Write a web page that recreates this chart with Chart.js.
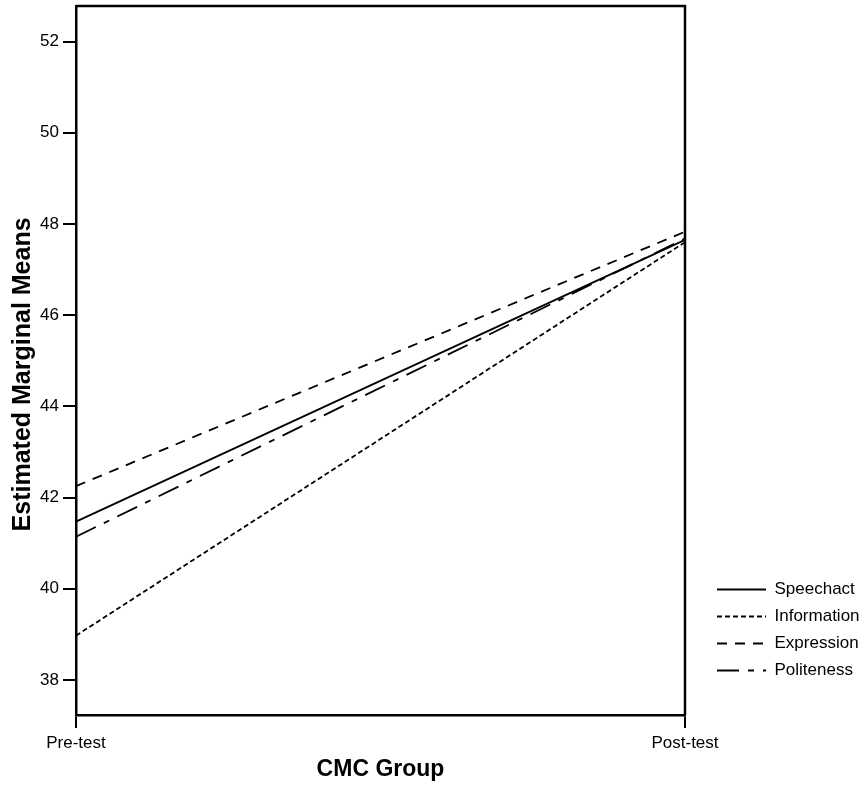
<!DOCTYPE html>
<html>
<head>
<meta charset="utf-8">
<script src="https://cdn.jsdelivr.net/npm/chart.js@4.4.1/dist/chart.umd.min.js"></script>
<style>
  html, body { margin: 0; padding: 0; background: #fff; }
  #wrap { width: 864px; height: 786px; position: relative; }
</style>
</head>
<body>
<div id="wrap"><canvas id="c" width="864" height="786"></canvas></div>
<script>
const categories = ['Pre-test', 'Post-test'];
const speechact   = [41.47, 47.65];
const information = [38.97, 47.60];
const expression  = [42.25, 47.83];
const politeness  = [41.14, 47.68];
const yTickValues = [38, 40, 42, 44, 46, 48, 50, 52];
const yMin = 37.23, yMax = 52.78;

const FONT = "'Liberation Sans', Arial, Helvetica, sans-serif";
Chart.defaults.color = '#000';
Chart.defaults.font.family = FONT;

const frame = {
  id: 'frame',
  afterDraw(chart) {
    const a = chart.chartArea, ctx = chart.ctx;
    ctx.save();
    ctx.strokeStyle = '#000';
    ctx.lineWidth = 2.5;
    ctx.beginPath();
    ctx.moveTo(a.left, a.top); ctx.lineTo(a.right, a.top); ctx.lineTo(a.right, a.bottom);
    ctx.stroke();
    ctx.restore();
  }
};

const placeLegend = {
  id: 'placeLegend',
  afterLayout(chart) {
    const lg = chart.legend;
    lg.left = 707; lg.top = 571; lg.right = 864; lg.bottom = 786;
    lg.width = lg.right - lg.left; lg.height = lg.bottom - lg.top;
  }
};

function ds(label, data, dash) {
  return {
    label, data,
    borderColor: '#000', backgroundColor: '#000',
    borderWidth: 1.8, borderDash: dash,
    pointRadius: 0, pointHoverRadius: 0, tension: 0, fill: false
  };
}

new Chart(document.getElementById('c'), {
  type: 'line',
  data: {
    labels: categories,
    datasets: [
      ds('Speechact', speechact, []),
      ds('Information', information, [5, 3]),
      ds('Expression', expression, [10, 8]),
      ds('Politeness', politeness, [22, 9, 6, 9])
    ]
  },
  options: {
    responsive: false,
    animation: false,
    events: [],
    layout: { padding: { top: 6, right: 179, left: 0, bottom: 0 } },
    plugins: {
      tooltip: { enabled: false },
      legend: {
        position: 'chartArea',
        align: 'start',
        labels: {
          usePointStyle: true,
          pointStyle: 'line',
          pointStyleWidth: 49,
          padding: 10,
          color: '#000',
          font: { size: 17, family: FONT },
          generateLabels(chart) {
            const items = Chart.defaults.plugins.legend.labels.generateLabels(chart);
            items.forEach(it => {
              const d = chart.data.datasets[it.datasetIndex];
              it.lineDash = d.borderDash;
              it.lineWidth = d.borderWidth;
              it.strokeStyle = d.borderColor;
              it.fillStyle = d.borderColor;
              it.pointStyle = 'line';
            });
            return items;
          }
        }
      }
    },
    scales: {
      x: {
        type: 'category',
        offset: false,
        afterFit(s) { s.height = 71; s.paddingLeft = 0; s.paddingRight = 0; },
        grid: { drawOnChartArea: false, drawTicks: true, tickLength: 13, color: '#000', lineWidth: 2 },
        border: { display: true, color: '#000', width: 2.5 },
        ticks: { padding: 5, maxRotation: 0, autoSkip: false, font: { size: 17, family: FONT }, color: '#000' },
        title: { display: true, text: 'CMC Group', font: { size: 23, weight: 'bold', family: FONT }, color: '#000', padding: { top: 0, bottom: 3 } }
      },
      y: {
        type: 'linear',
        min: yMin, max: yMax,
        afterFit(s) { s.width = 76; s.paddingTop = 0; s.paddingBottom = 0; },
        afterBuildTicks(s) { s.ticks = yTickValues.map(v => ({ value: v })); },
        grid: { drawOnChartArea: false, drawTicks: true, tickLength: 13, color: '#000', lineWidth: 2 },
        border: { display: true, color: '#000', width: 2.5 },
        ticks: { padding: 4, font: { size: 17, family: FONT }, color: '#000' },
        title: { display: true, text: 'Estimated Marginal Means    ', font: { size: 25, weight: 'bold', family: FONT }, color: '#000', padding: { top: 8, bottom: 8 } }
      }
    }
  },
  plugins: [frame, placeLegend]
});
</script>
</body>
</html>
